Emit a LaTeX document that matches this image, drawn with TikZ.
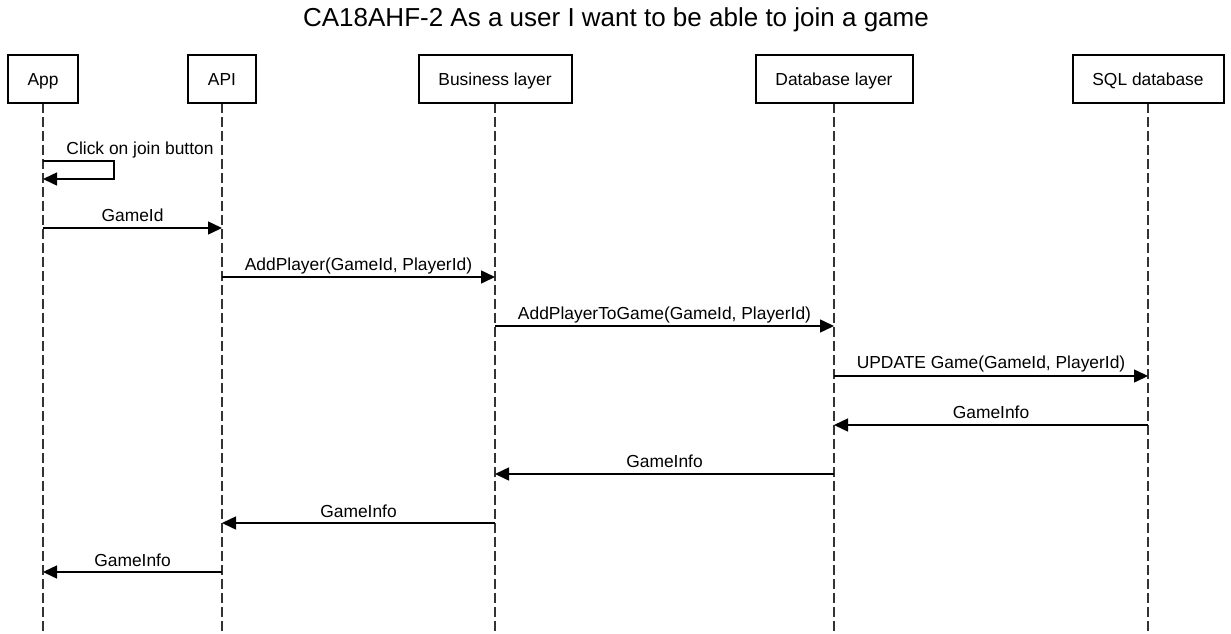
\documentclass[tikz,border=0pt]{standalone}
\usepackage{fontspec}
\setmainfont{Liberation Sans}
\usetikzlibrary{arrows.meta}
\begin{document}
\begin{tikzpicture}[x=1pt,y=-1pt,
  actor/.style={draw=black, line width=2pt, minimum height=48pt, inner sep=0pt, font=\fontsize{17.4}{19}\selectfont, text height=14.5pt, text depth=1.5pt, fill=white},
  life/.style={draw=black!80, line width=1.5pt, dash pattern=on 10pt off 4pt},
  msg/.style={draw=black, line width=1.5pt, -{Triangle[length=14pt,width=13pt]}},
  lbl/.style={font=\fontsize{17.4}{19}\selectfont, inner sep=0pt, text height=14.5pt, text depth=1.5pt}]
\useasboundingbox (0,0) rectangle (1231,634);
\node[font=\fontsize{26}{28}\selectfont, inner sep=0pt, text height=20pt, text depth=2pt] (title) at (616,18) {CA18AHF-2 As a user I want to be able to join a game};
% lifelines
\coordinate (appE) at (43,634);
\coordinate (apiE) at (222,634);
\coordinate (busE) at (495,634);
\coordinate (dbE) at (834,634);
\coordinate (sqlE) at (1148,634);
\draw[life] (43,103) -- (appE);
\draw[life] (222,103) -- (apiE);
\draw[life] (495,103) -- (busE);
\draw[life] (834,103) -- (dbE);
\draw[life] (1148,103) -- (sqlE);
% actors
\node[actor, minimum width=70pt] (app) at (43,79) {App};
\node[actor, minimum width=68pt] (api) at (222,79) {API};
\node[actor, minimum width=153pt] (bus) at (495,79) {Business layer};
\node[actor, minimum width=157pt] (db) at (834,79) {Database layer};
\node[actor, minimum width=151pt] (sql) at (1148,79) {SQL database};
% self message
\coordinate (selfA) at (114,161);
\coordinate (selfB) at (114,179);
\draw[msg] (app.south |- selfA) -- (selfA) -- (selfB) -- (app.south |- selfB);
\node[lbl] (lself) at (140,148) {Click on join button};
% messages
\draw[msg] (app.south |- 0,228) -- node[lbl, yshift=13pt] (l1) {GameId} (api.south |- 0,228);
\draw[msg] (api.south |- 0,277) -- node[lbl, yshift=13pt] (l2) {AddPlayer(GameId, PlayerId)} (bus.south |- 0,277);
\draw[msg] (bus.south |- 0,326) -- node[lbl, yshift=13pt] (l3) {AddPlayerToGame(GameId, PlayerId)} (db.south |- 0,326);
\draw[msg] (db.south |- 0,376) -- node[lbl, yshift=14pt] (l4) {UPDATE Game(GameId, PlayerId)} (sql.south |- 0,376);
\draw[msg] (sql.south |- 0,425) -- node[lbl, yshift=13pt] (l5) {GameInfo} (db.south |- 0,425);
\draw[msg] (db.south |- 0,474) -- node[lbl, yshift=13pt] (l6) {GameInfo} (bus.south |- 0,474);
\draw[msg] (bus.south |- 0,523) -- node[lbl, yshift=12pt] (l7) {GameInfo} (api.south |- 0,523);
\draw[msg] (api.south |- 0,572) -- node[lbl, yshift=12pt] (l8) {GameInfo} (app.south |- 0,572);
\end{tikzpicture}
\end{document}
